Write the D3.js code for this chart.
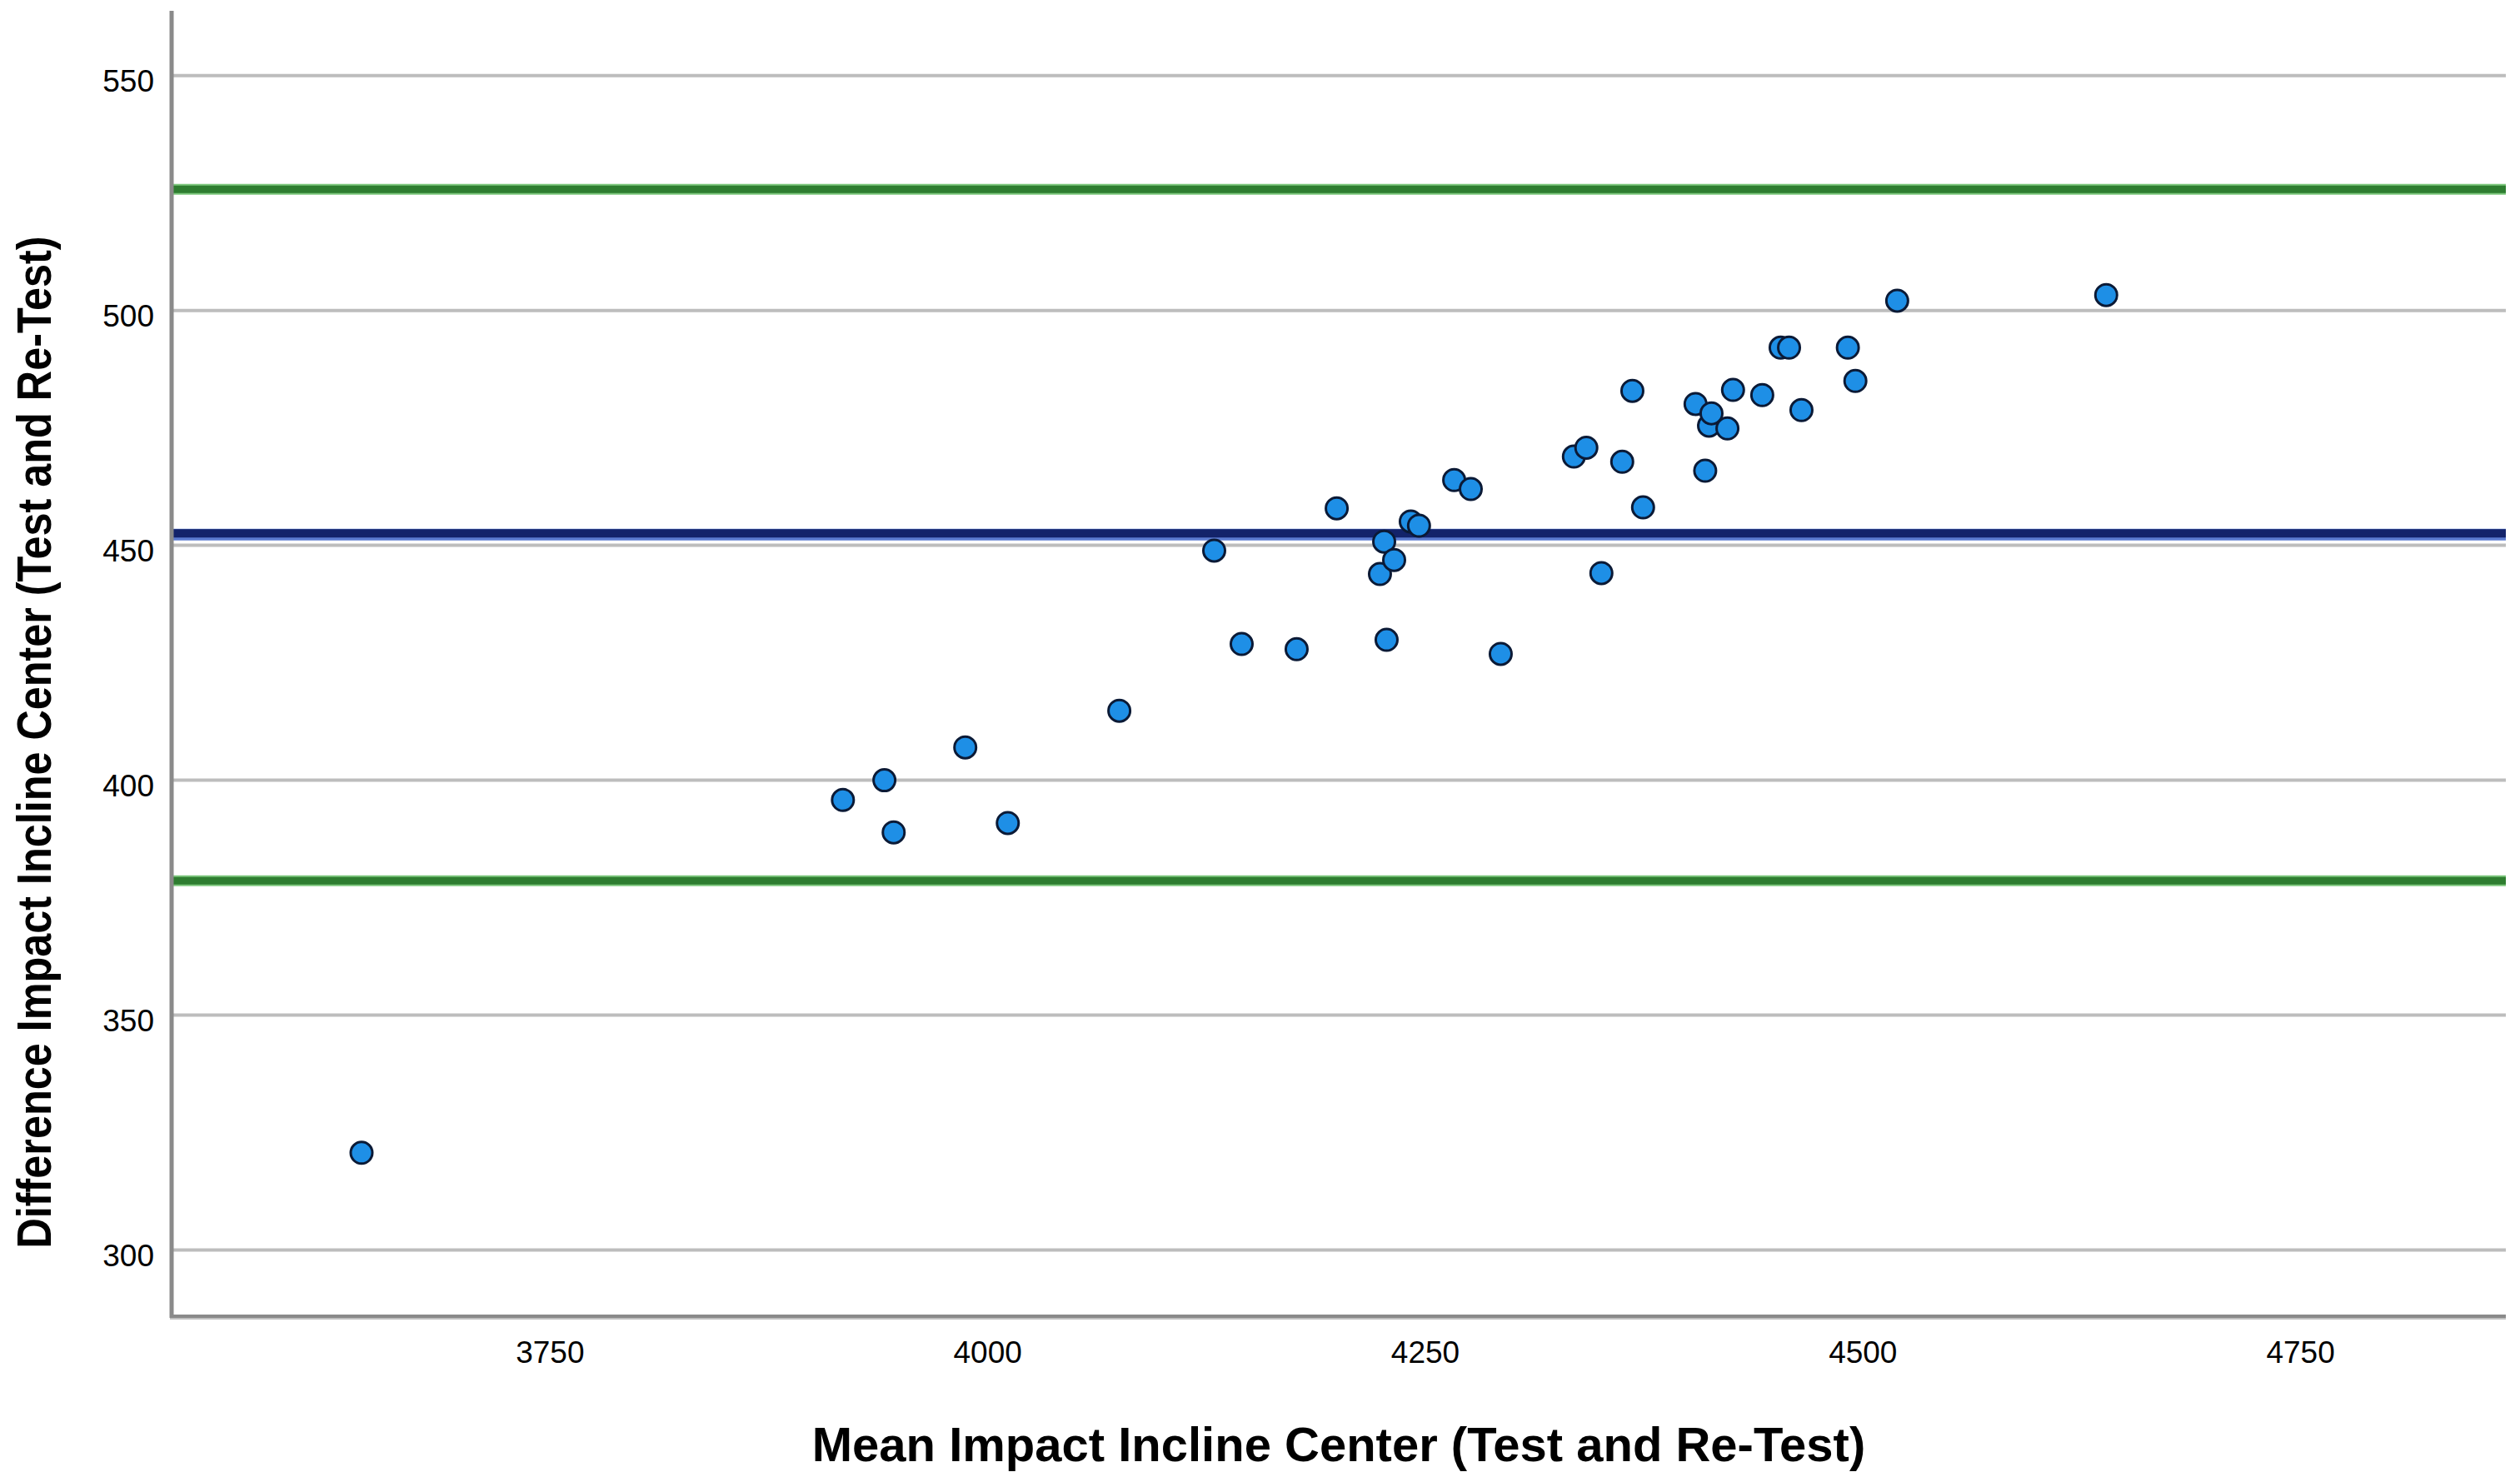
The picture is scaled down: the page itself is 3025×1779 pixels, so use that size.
<!DOCTYPE html>
<html>
<head>
<meta charset="utf-8">
<title>Bland-Altman plot: Impact Incline Center</title>
<script src="https://cdn.jsdelivr.net/npm/d3@7/dist/d3.min.js"></script>
<style>
  body { margin: 0; background: #fff; }
  text { font-family: "Liberation Sans", Arial, sans-serif; fill: #000; }
  .tick text { font-size: 37px; }
  .title { font-size: 58px; font-weight: bold; }
</style>
</head>
<body>
<script>
  // data
  var meanValues = [3642.5, 3917.5, 3941.2, 3946.5, 3987.4, 4011.7, 4075.4,
    4129.6, 4145.3, 4176.7, 4199.6, 4224.3, 4226.7, 4228.1, 4232.4, 4241.9,
    4246.6, 4266.7, 4276.2, 4293.3, 4335.1, 4342.2, 4350.8, 4362.7, 4368.5,
    4374.6, 4404.6, 4410.1, 4412.3, 4413.7, 4422.8, 4426.0, 4442.7, 4453.2,
    4458.0, 4465.1, 4491.6, 4495.9, 4519.8, 4639.2];
  var diffValues = [320.6, 395.7, 399.9, 388.8, 406.9, 390.8, 414.7,
    448.8, 428.9, 427.8, 457.8, 443.8, 450.7, 429.8, 446.8, 455.0,
    454.1, 463.8, 461.9, 426.8, 468.8, 470.7, 444.0, 467.7, 482.8,
    458.0, 480.0, 465.8, 475.4, 478.0, 474.8, 483.0, 481.9, 492.0,
    492.0, 478.7, 492.0, 484.9, 502.0, 503.2];
  var xTicks = [3750, 4000, 4250, 4500, 4750];
  var yTicks = [300, 350, 400, 450, 500, 550];
  var meanDiff = 452.2;
  var upperLimit = 525.7;
  var lowerLimit = 378.5;

  var width = 3025, height = 1779;
  var plot = {left: 206, right: 3008, top: 13, bottom: 1580};

  var x = d3.scaleLinear().domain([3534, 4867.5]).range([plot.left, plot.right]);
  var y = d3.scaleLinear().domain([285.8, 563.7]).range([plot.bottom, plot.top]);

  var svg = d3.select("body").append("svg")
    .attr("width", width).attr("height", height);

  // gridlines
  svg.append("g")
    .attr("transform", "translate(" + plot.left + ",0)")
    .call(d3.axisLeft(y).tickValues(yTicks).tickFormat("")
      .tickSize(-(plot.right - plot.left)))
    .call(function (g) { g.select(".domain").remove(); })
    .selectAll("line").attr("stroke", "#bdbdbd").attr("stroke-width", 4);

  // limits of agreement and mean difference
  function refLine(v, light, dark, wLight, wDark, off) {
    svg.append("line").attr("x1", plot.left).attr("x2", plot.right)
      .attr("y1", y(v)).attr("y2", y(v))
      .attr("stroke", light).attr("stroke-width", wLight);
    svg.append("line").attr("x1", plot.left).attr("x2", plot.right)
      .attr("y1", y(v) + off).attr("y2", y(v) + off)
      .attr("stroke", dark).attr("stroke-width", wDark);
  }
  refLine(upperLimit, "#7cc77c", "#2e7d30", 13, 9, 0);
  refLine(lowerLimit, "#7cc77c", "#2e7d30", 13, 9, 0);
  refLine(meanDiff, "#5b7bd0", "#13236a", 14, 10, -1.5);

  // axes
  svg.append("line").attr("x1", plot.left).attr("x2", plot.left)
    .attr("y1", plot.top).attr("y2", plot.bottom + 2)
    .attr("stroke", "#8a8a8a").attr("stroke-width", 5);
  svg.append("line").attr("x1", plot.left - 2).attr("x2", plot.right)
    .attr("y1", plot.bottom + 2).attr("y2", plot.bottom + 2)
    .attr("stroke", "#c0c0c0").attr("stroke-width", 4);
  svg.append("line").attr("x1", plot.left - 2).attr("x2", plot.right)
    .attr("y1", plot.bottom).attr("y2", plot.bottom)
    .attr("stroke", "#8a8a8a").attr("stroke-width", 4);

  var yAxis = svg.append("g")
    .attr("transform", "translate(" + plot.left + ",0)")
    .call(d3.axisLeft(y).tickValues(yTicks).tickSize(0).tickPadding(21)
      .tickFormat(d3.format("d")));
  yAxis.select(".domain").remove();
  yAxis.selectAll("text").attr("dy", "0.52em");

  var xAxis = svg.append("g")
    .attr("transform", "translate(0," + plot.bottom + ")")
    .call(d3.axisBottom(x).tickValues(xTicks).tickSize(0).tickPadding(30)
      .tickFormat(d3.format("d")));
  xAxis.select(".domain").remove();

  // points
  svg.append("g").selectAll("circle")
    .data(meanValues.map(function (m, i) { return {m: m, d: diffValues[i]}; }))
    .enter().append("circle")
    .attr("cx", function (d) { return x(d.m); })
    .attr("cy", function (d) { return y(d.d); })
    .attr("r", 13)
    .attr("fill", "#1e8fe6")
    .attr("stroke", "#0b1a36")
    .attr("stroke-width", 3);

  // axis titles
  svg.append("text").attr("class", "title")
    .attr("x", (plot.left + plot.right) / 2).attr("y", 1754)
    .attr("text-anchor", "middle")
    .text("Mean Impact Incline Center (Test and Re-Test)");

  svg.append("text").attr("class", "title")
    .attr("transform", "translate(61,891) rotate(-90)")
    .attr("text-anchor", "middle")
    .attr("textLength", 1215).attr("lengthAdjust", "spacingAndGlyphs")
    .text("Difference Impact Incline Center (Test and Re-Test)");
</script>
</body>
</html>
